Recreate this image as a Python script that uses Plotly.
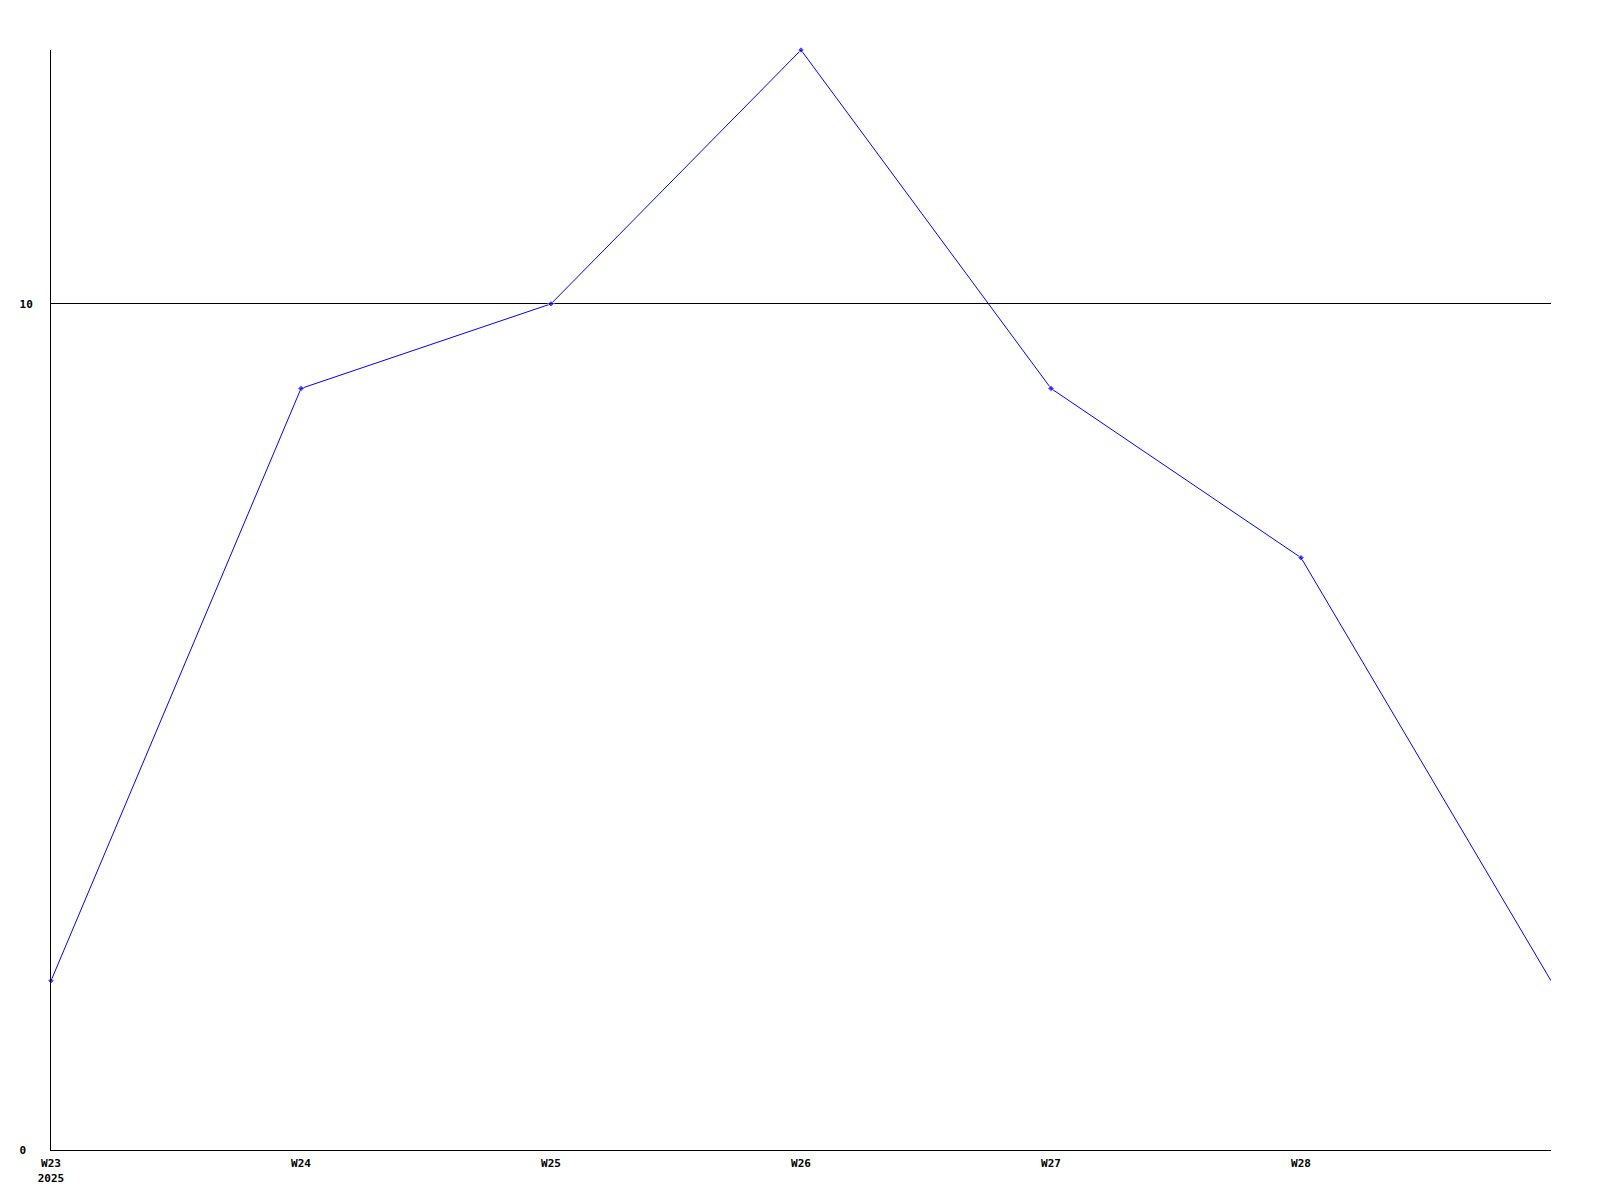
import plotly.graph_objects as go

weeks = ["W23", "W24", "W25", "W26", "W27", "W28", "W29"]
counts = [2, 9, 10, 13, 9, 7, 2]
year_label = "2025"
y_ticks = [0, 10]

FONT = dict(family="DejaVu Sans Mono", size=11, color="black")

tick_text = [f"<b>{w}</b>" for w in weeks[:-1]]
tick_text[0] = f"<b>{weeks[0]}<br>{year_label}</b>"

fig = go.Figure()
fig.add_trace(go.Scatter(
    x=weeks,
    y=counts,
    mode="lines+markers",
    line=dict(color="#0000FF", width=1),
    marker=dict(symbol="diamond", size=[5] * (len(weeks) - 1) + [0], color="#0000FF"),
    cliponaxis=False,
    hoverinfo="skip",
))

# page body adds an 8px offset, so margins are shifted to compensate
fig.update_layout(
    width=1600,
    height=1200,
    paper_bgcolor="white",
    plot_bgcolor="white",
    showlegend=False,
    font=FONT,
    margin=dict(l=43, r=57, t=42, b=58),
)
fig.update_xaxes(
    type="category",
    range=[0, len(weeks) - 1],
    tickvals=weeks[:-1],
    ticktext=tick_text,
    showgrid=False,
    zeroline=False,
    showline=True,
    linecolor="black",
    linewidth=1,
    ticks="",
    automargin=False,
    ticklabelstandoff=3,
)
fig.update_yaxes(
    range=[0, 13],
    tickvals=y_ticks,
    ticktext=[f"<b>{v}</b>" + "\u00a0" * (2 - len(str(v))) for v in y_ticks],
    showgrid=True,
    gridcolor="black",
    gridwidth=1,
    zeroline=False,
    showline=True,
    linecolor="black",
    linewidth=1,
    ticks="",
    automargin=False,
    ticklabelstandoff=15,
)

fig.write_html("out.html")
